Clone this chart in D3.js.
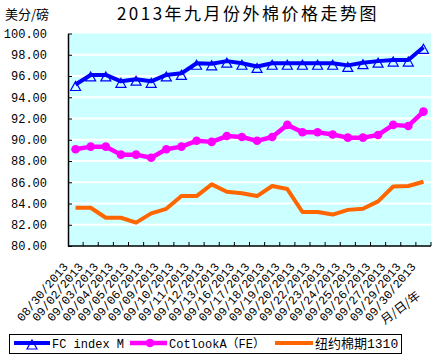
<!DOCTYPE html>
<html><head><meta charset="utf-8">
<script src="https://cdn.jsdelivr.net/npm/d3@7/dist/d3.min.js"></script>
<style>
body{margin:0;background:#fff;}
svg{display:block;}
text{font-family:"Liberation Mono","Noto Sans CJK SC",monospace;fill:#000;}
</style></head>
<body>
<svg id="chart" width="436" height="357"></svg>
<script>
const dates = ["08/30/2013","09/02/2013","09/03/2013","09/04/2013","09/05/2013","09/06/2013",
  "09/09/2013","09/10/2013","09/11/2013","09/12/2013","09/13/2013","09/16/2013",
  "09/17/2013","09/18/2013","09/19/2013","09/20/2013","09/22/2013","09/23/2013",
  "09/24/2013","09/25/2013","09/26/2013","09/27/2013","09/29/2013","09/30/2013"];
const fcIndexM = [95.2,96.1,96.1,95.5,95.7,95.5,96.1,96.25,97.2,97.15,97.4,97.2,
  96.9,97.2,97.2,97.2,97.2,97.2,97.0,97.25,97.4,97.5,97.5,98.7];
const cotlookA = [89.1,89.35,89.35,88.6,88.6,88.3,89.1,89.35,89.9,89.8,90.35,90.26,
  89.9,90.26,91.4,90.7,90.7,90.5,90.2,90.2,90.45,91.4,91.3,92.65];
const nyFutures = [83.6,83.6,82.66,82.66,82.2,83.07,83.5,84.7,84.7,85.8,85.1,84.96,
  84.7,85.65,85.36,83.2,83.2,82.96,83.4,83.5,84.2,85.6,85.65,86.05];
const yTicks = [80,82,84,86,88,90,92,94,96,98,100];
const seriesNames = ["FC index M","CotlookA（FE）","纽约棉期1310"];
const colors = ["#0000FF","#FF00FF","#FF6600"];
const title = "2013年九月份外棉价格走势图";
const yUnit = "美分/磅";
const xTitle = "月/日/年";

const svg = d3.select("#chart");
const L = 68, R = 431, T = 33.5, B = 246;
const x = d3.scaleBand().domain(dates).range([L, R]).padding(0);
const y = d3.scaleLinear().domain([80, 100]).range([B, T]);
const cx = d => x(d) + x.bandwidth() / 2;

// plot background
svg.append("rect").attr("x", L).attr("y", y(100)).attr("width", R - L).attr("height", y(80) - y(100)).attr("fill", "#CCFFFF");
// gridlines
svg.append("g").selectAll("line").data(yTicks.filter(v => v > 80 && v < 100)).join("line")
  .attr("x1", L).attr("x2", R).attr("y1", d => y(d)).attr("y2", d => y(d))
  .attr("stroke", "#fff").attr("stroke-width", 2);

// titles
svg.append("text").attr("x", 248).attr("y", 20).attr("text-anchor", "middle")
  .style("font-family", "'Noto Sans CJK SC',sans-serif").style("font-size", "17px").style("letter-spacing", "2.5px").text(title);
svg.append("text").attr("x", 5).attr("y", 19)
  .style("font-family", "'Noto Sans CJK SC',sans-serif").style("font-size", "13px").text(yUnit);

// y axis
const yAxis = d3.axisLeft(y).tickValues(yTicks).tickFormat(d3.format(".2f")).tickSizeInner(-4).tickSizeOuter(0).tickPadding(21);
const gy = svg.append("g").attr("transform", `translate(${L},0)`).call(yAxis);
gy.selectAll("text").style("font-size", "12px").style("font-family", "'Liberation Mono',monospace");
gy.select(".domain").attr("stroke", "#000").attr("stroke-width", 1.5);
gy.selectAll(".tick line").attr("stroke", "#000");

// x axis line and boundary ticks
svg.append("line").attr("x1", L).attr("x2", R).attr("y1", B).attr("y2", B).attr("stroke", "#000").attr("stroke-width", 1.5);
const bounds = dates.slice(1).map(d => x(d)).concat([R]);
svg.append("g").selectAll("line").data(bounds).join("line")
  .attr("x1", d => d).attr("x2", d => d).attr("y1", B).attr("y2", B - 4).attr("stroke", "#000");

// x labels
svg.append("g").selectAll("text").data(dates).join("text")
  .attr("transform", d => `translate(${cx(d) - 7},${B + 21}) rotate(-50)`)
  .attr("text-anchor", "end").style("font-size", "12px").text(d => d);
svg.append("text").attr("transform", "translate(403,311) rotate(-37)").attr("text-anchor", "middle")
  .style("font-family", "'Noto Sans CJK SC',sans-serif").style("font-size", "12px").text(xTitle);

// lines
const line = d3.line().x((v, i) => cx(dates[i])).y(v => y(v));
const series = [fcIndexM, cotlookA, nyFutures];
const widths = [4, 4.5, 4];
[2, 1, 0].forEach(k => {
  svg.append("path").datum(series[k]).attr("d", line).attr("fill", "none")
    .attr("stroke", colors[k]).attr("stroke-width", widths[k]).attr("stroke-linejoin", "round");
});
const triPath = "M0,-3L5,6L-5,6Z";
svg.append("g").selectAll("path").data(fcIndexM).join("path")
  .attr("transform", (v, i) => `translate(${cx(dates[i])},${y(v)})`)
  .attr("d", triPath).attr("fill", "none").attr("stroke", colors[0]).attr("stroke-width", 1.2);
svg.append("g").selectAll("circle").data(cotlookA).join("circle")
  .attr("cx", (v, i) => cx(dates[i])).attr("cy", v => y(v)).attr("r", 4.3).attr("fill", colors[1]);

// legend
const lg = svg.append("g");
lg.append("rect").attr("x", 9.5).attr("y", 334.5).attr("width", 392).attr("height", 19).attr("fill", "#fff").attr("stroke", "#000");
const legendX = [[14, 50, 52], [130, 167, 169], [275, 313, 315]];
legendX.forEach((p, k) => {
  lg.append("line").attr("x1", p[0]).attr("x2", p[1]).attr("y1", 343).attr("y2", 343)
    .attr("stroke", colors[k]).attr("stroke-width", k === 1 ? 4.5 : 4);
  lg.append("text").attr("x", p[2]).attr("y", 348).style("font-size", k === 2 ? "13px" : "12px").text(seriesNames[k]);
});
lg.append("path").attr("transform", "translate(32,343)").attr("d", triPath).attr("fill", "#fff").attr("stroke", colors[0]).attr("stroke-width", 1.2);
lg.append("line").attr("x1", 27).attr("x2", 37).attr("y1", 343).attr("y2", 343).attr("stroke", colors[0]).attr("stroke-width", 4);
lg.append("circle").attr("cx", 150).attr("cy", 343).attr("r", 4.3).attr("fill", colors[1]);
</script>
</body></html>
